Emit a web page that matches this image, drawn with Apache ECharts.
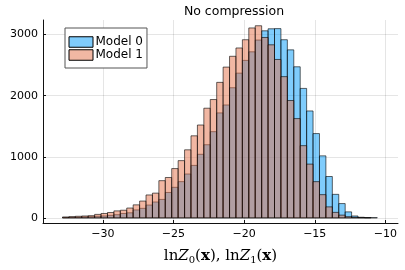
<!DOCTYPE html>
<html>
<head>
<meta charset="utf-8">
<script src="https://cdn.jsdelivr.net/npm/echarts@6/dist/echarts.min.js"></script>
<style>html,body{margin:0;padding:0;background:#fff}#c{width:405px;height:270px}</style>
</head>
<body>
<div id="c"></div>
<script>
// Histogram bins: left edge of first bin and common bin width (x units)
var binStart = -32.85;
var binWidth = 0.4546;
var seriesNames = ['Model 0', 'Model 1'];
// counts per bin, left to right
var model0 = [5, 10, 10, 15, 20, 26, 31, 41, 52, 72, 83, 130, 156, 210, 260, 302, 416, 500, 593, 718,
  859, 1041, 1197, 1411, 1718, 1848, 2130, 2369, 2578, 2718, 2911, 3062, 3095, 3098, 2916, 2750, 2473,
  2119, 1750, 1380, 1015, 677, 385, 234, 98, 31, 10, 5, 3];
var model1 = [15, 20, 26, 31, 36, 57, 72, 88, 114, 125, 161, 213, 275, 375, 405, 609, 661, 807, 937, 1114,
  1343, 1520, 1795, 1937, 2218, 2468, 2645, 2781, 2916, 3109, 3145, 2953, 2833, 2593, 2312, 1921, 1625,
  1182, 880, 593, 380, 180, 90, 45, 20, 10, 5, 2, 0];
var xTicks = [-30, -25, -20, -15, -10];
var yTicks = [0, 1000, 2000, 3000];

var fills = ['rgba(0,154,250,0.5)', 'rgba(227,111,71,0.5)'];
var edge = 'rgba(0,0,0,0.6)';

function toRows(counts) {
  var rows = [];
  for (var i = 0; i < counts.length; i++) {
    if (counts[i] > 0) rows.push([binStart + i * binWidth, binStart + (i + 1) * binWidth, counts[i]]);
  }
  return rows;
}
function makeRender(fill) {
  return function (params, api) {
    var p0 = api.coord([api.value(0), api.value(2)]);
    var p1 = api.coord([api.value(1), 0]);
    return {
      type: 'rect',
      shape: { x: p0[0], y: p0[1], width: p1[0] - p0[0], height: p1[1] - p0[1] },
      style: { fill: fill, stroke: edge, lineWidth: 1 }
    };
  };
}
var minus = function (v) { return String(v).replace('-', '\u2212'); };
var plain = function (v) { return String(v); };

var chart = echarts.init(document.getElementById('c'), null, { renderer: 'canvas' });
chart.setOption({
  animation: false,
  backgroundColor: '#fff',
  textStyle: { fontFamily: 'DejaVu Sans' },
  title: {
    text: 'No compression', left: 229, top: 0, textAlign: 'center',
    textStyle: { fontSize: 12.5, fontWeight: 'normal', color: '#000', fontFamily: 'DejaVu Sans' }
  },
  legend: {
    data: seriesNames, orient: 'vertical', left: 65, top: 28,
    icon: 'rect', itemWidth: 24, itemHeight: 10.5, itemGap: 1,
    padding: [8, 4, 7, 3.5],
    backgroundColor: '#fff', borderColor: '#555', borderWidth: 1,
    itemStyle: { borderColor: '#000', borderWidth: 1 },
    textStyle: { fontSize: 12, color: '#000', fontFamily: 'DejaVu Sans', padding: [0, 0, 0, -2.5] }
  },
  grid: { left: 43, right: 7, top: 20, bottom: 37, containLabel: false },
  xAxis: {
    type: 'value', min: -34.23, max: -9.11,
    name: '{n|ln}{i|Z}{s|0}{n|(}{b|x}{n|), ln}{i|Z}{s|1}{n|(}{b|x}{n|)}',
    nameLocation: 'middle', nameGap: 25,
    nameTextStyle: {
      rich: {
        n: { fontFamily: 'DejaVu Serif', fontSize: 15, color: '#000' },
        i: { fontFamily: 'DejaVu Serif', fontSize: 15, fontStyle: 'italic', color: '#000' },
        b: { fontFamily: 'DejaVu Serif', fontSize: 15, fontWeight: 'bold', color: '#000' },
        s: { fontFamily: 'DejaVu Serif', fontSize: 10, color: '#000', verticalAlign: 'bottom', padding: [7, 0, 0, 0] }
      }
    },
    axisLine: { show: true, onZero: false, lineStyle: { color: '#111', width: 1 } },
    axisTick: { show: true, inside: true, length: 3, customValues: xTicks, lineStyle: { color: '#111' } },
    axisLabel: { customValues: xTicks, formatter: minus, fontSize: 11, color: '#000', margin: 6, fontFamily: 'DejaVu Sans' },
    splitLine: { show: true, lineStyle: { color: 'rgba(0,0,0,0.1)', width: 1 } }
  },
  yAxis: {
    type: 'value', min: -84, max: 3239,
    axisLine: { show: true, onZero: false, lineStyle: { color: '#111', width: 1 } },
    axisTick: { show: true, inside: true, length: 3, customValues: yTicks, lineStyle: { color: '#111' } },
    axisLabel: { customValues: yTicks, formatter: plain, fontSize: 11, color: '#000', margin: 5, fontFamily: 'DejaVu Sans' },
    splitLine: { show: true, lineStyle: { color: 'rgba(0,0,0,0.1)', width: 1 } }
  },
  series: [
    { name: seriesNames[0], type: 'custom', renderItem: makeRender(fills[0]), data: toRows(model0),
      itemStyle: { color: fills[0], borderColor: '#000' }, encode: { x: [0, 1], y: 2 }, clip: true },
    { name: seriesNames[1], type: 'custom', renderItem: makeRender(fills[1]), data: toRows(model1),
      itemStyle: { color: fills[1], borderColor: '#000' }, encode: { x: [0, 1], y: 2 }, clip: true }
  ]
});
</script>
</body>
</html>
